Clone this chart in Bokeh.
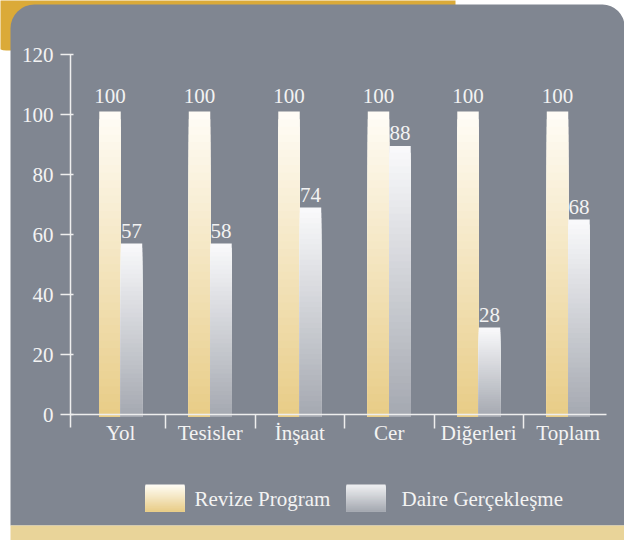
import numpy as np
from bokeh.plotting import figure
from bokeh.models import Range1d, LinearAxis, FixedTicker, ColumnDataSource
from bokeh.core.properties import value
from bokeh.embed import file_html
from bokeh.resources import INLINE

# ---------------- data ----------------
categories = ["Yol", "Tesisler", "İnşaat", "Cer", "Diğerleri", "Toplam"]
revize_values = [101, 101, 101, 101, 101, 101]          # bar heights as drawn
revize_labels = ["100", "100", "100", "100", "100", "100"]
daire_values = [57, 57, 69, 89.5, 29, 65]                # bar heights as drawn
daire_labels = ["57", "58", "74", "88", "28", "68"]
y_ticks = [0, 20, 40, 60, 80, 100, 120]
series_names = ["Revize Program", "Daire Gerçekleşme"]

# ---------------- layout / style ----------------
W, H = 624, 540
OFF = 0
PX_PER_X, REF_X1 = 89.5, 165.0
PX_PER_Y, REF_Y0 = 3.0, 414.0
TXT_FIX = -8  # baseline correction for svg text


def to_x(ref):
    return 1 + (ref - REF_X1) / PX_PER_X


def to_y(ref):
    return (REF_Y0 - ref) / PX_PER_Y


FONT = "Liberation Serif"
FS = "21px"
TXT = "#f3f3f3"
AX = "#eeeeee"
CARD = "#808691"
GOLD_DARK = "#dbaa38"
GOLD_LIGHT = "#e9d499"
GOLD_TOP, GOLD_BOT = (255, 253, 247), (232, 204, 134)
GRAY_TOP, GRAY_BOT = (250, 250, 252), (164, 168, 176)
BAR_W = 0.24
BAR_BASE = -0.8

p = figure(width=W, height=H,
           x_range=Range1d(to_x(OFF), to_x(OFF + W)),
           y_range=Range1d(to_y(OFF + H), to_y(OFF)),
           x_axis_type=None, y_axis_type=None, min_border=0,
           toolbar_location=None, output_backend="svg",
           background_fill_color="white", border_fill_color="white",
           outline_line_color=None)
p.extra_x_ranges = {"px": Range1d(0, W)}
p.extra_y_ranges = {"py": Range1d(H, 0)}

# decorative frame
p.quad(left=-10, right=455 - OFF, top=-20, bottom=50 - OFF, fill_color=GOLD_DARK,
       line_color=None, border_radius=(0, 0, 0, 16), x_range_name="px", y_range_name="py")
p.quad(left=10 - OFF, right=624 - OFF, top=4 - OFF, bottom=525 - OFF, fill_color=CARD,
       line_color=None, border_radius=(24, 22, 0, 0), x_range_name="px", y_range_name="py")
p.quad(left=10 - OFF, right=640, top=525 - OFF, bottom=560, fill_color=GOLD_LIGHT,
       line_color=None, x_range_name="px", y_range_name="py")


def to_hex(c):
    return "#%02x%02x%02x" % tuple(int(round(v)) for v in c)


def gradient(x0, x1, base, top, c_bot, c_top, n=40):
    L, R, B, T, C = [], [], [], [], []
    for k in range(n):
        frac = (n - k) / n
        mid = (n - k - 0.5) / n
        col = [cb + (ct - cb) * mid for cb, ct in zip(c_bot, c_top)]
        L.append(x0); R.append(x1); B.append(base)
        T.append(base + (top - base) * frac); C.append(to_hex(col))
    return L, R, B, T, C


cols = {"left": [], "right": [], "bottom": [], "top": [], "color": []}
centers = np.arange(len(categories)) + 0.5
for i, c in enumerate(centers):
    for xc, v, ct, cb in ((c - BAR_W / 2, revize_values[i], GOLD_TOP, GOLD_BOT),
                          (c + BAR_W / 2, daire_values[i], GRAY_TOP, GRAY_BOT)):
        L, R, B, T, C = gradient(xc - BAR_W / 2, xc + BAR_W / 2, BAR_BASE, v, cb, ct)
        cols["left"] += L; cols["right"] += R; cols["bottom"] += B
        cols["top"] += T; cols["color"] += C
p.quad(left="left", right="right", bottom="bottom", top="top", fill_color="color",
       line_color=None, source=ColumnDataSource(cols))

# value labels
p.text(x=list(centers - BAR_W / 2), y=revize_values, text=revize_labels,
       text_font=value(FONT), text_font_size=FS, text_color=TXT,
       text_align="center", text_baseline="alphabetic", y_offset=-8 + TXT_FIX)
p.text(x=list(centers + BAR_W / 2), y=daire_values, text=daire_labels,
       text_font=value(FONT), text_font_size=FS, text_color=TXT,
       text_align="center", text_baseline="alphabetic", y_offset=-5 + TXT_FIX)

# category labels
p.text(x=list(centers), y=[0] * len(categories), text=categories,
       text_font=value(FONT), text_font_size=FS, text_color=TXT,
       text_align="center", text_baseline="alphabetic", y_offset=26 + TXT_FIX)

# axes
yaxis = LinearAxis(fixed_location=to_x(70), bounds=(to_y(427), 120),
                   ticker=FixedTicker(ticks=y_ticks),
                   major_tick_out=10, major_tick_in=3, minor_tick_out=0, minor_tick_in=0,
                   major_label_standoff=7, axis_line_color=AX, axis_line_width=1.5,
                   major_tick_line_color=AX, major_tick_line_width=1.5,
                   major_label_text_font=FONT, major_label_text_font_size=FS,
                   major_label_text_color=TXT)
p.add_layout(yaxis, "left")
xaxis = LinearAxis(fixed_location=0, bounds=(to_x(70), to_x(606)),
                   ticker=FixedTicker(ticks=[1, 2, 3, 4, 5]),
                   major_tick_out=14, major_tick_in=0, minor_tick_out=0, minor_tick_in=0,
                   axis_line_color=AX, axis_line_width=1.5,
                   major_tick_line_color=AX, major_tick_line_width=1.5,
                   major_label_text_font_size="0px", major_label_text_color=None)
p.add_layout(xaxis, "below")

# legend
sw = {"left": [], "right": [], "bottom": [], "top": [], "color": []}
for x0, ct, cb in ((145, GOLD_TOP, GOLD_BOT), (346, (240, 241, 243), GRAY_BOT)):
    L, R, B, T, C = gradient(x0 - OFF, x0 + 39 - OFF, 511 - OFF, 484 - OFF, cb, ct)
    sw["left"] += L; sw["right"] += R; sw["bottom"] += B; sw["top"] += T; sw["color"] += C
p.quad(left="left", right="right", bottom="bottom", top="top", fill_color="color",
       line_color=None, source=ColumnDataSource(sw), x_range_name="px", y_range_name="py")
p.text(x=[194 - OFF, 401 - OFF], y=[506 - OFF + TXT_FIX, 506 - OFF + TXT_FIX], text=series_names,
       text_font=value(FONT), text_font_size=FS, text_color=TXT,
       text_align="left", text_baseline="alphabetic",
       x_range_name="px", y_range_name="py")

open("out.html", "w").write(file_html(p, INLINE))
